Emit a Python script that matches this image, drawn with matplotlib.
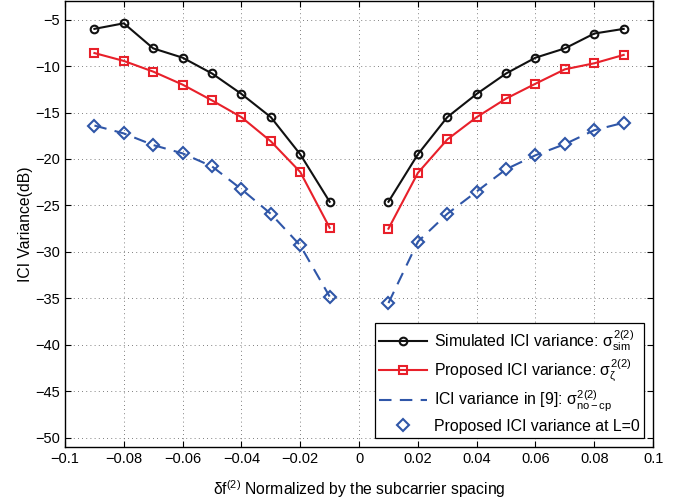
import numpy as np
import matplotlib
matplotlib.use("Agg")
import matplotlib.pyplot as plt

plt.rcParams['font.family'] = ['Liberation Sans', 'DejaVu Sans']
plt.rcParams['mathtext.fontset'] = 'custom'
plt.rcParams['mathtext.rm'] = 'Liberation Sans'
plt.rcParams['mathtext.it'] = 'Liberation Sans'
plt.rcParams['mathtext.bf'] = 'Liberation Sans:bold'

# Normalized frequency offsets (two branches around zero)
df_neg = [-0.09, -0.08, -0.07, -0.06, -0.05, -0.04, -0.03, -0.02, -0.01]
df_pos = [0.01, 0.02, 0.03, 0.04, 0.05, 0.06, 0.07, 0.08, 0.09]

# Simulated ICI variance (dB)
sim_neg = [-6.0, -5.4, -8.1, -9.1, -10.8, -13.0, -15.5, -19.5, -24.6]
sim_pos = [-24.6, -19.5, -15.5, -13.0, -10.8, -9.1, -8.1, -6.5, -6.0]

# Proposed ICI variance (dB)
prop_neg = [-8.6, -9.45, -10.6, -12.0, -13.7, -15.5, -18.1, -21.4, -27.4]
prop_pos = [-27.5, -21.5, -17.9, -15.5, -13.5, -11.9, -10.35, -9.7, -8.8]

# ICI variance in [9] (dB), also the proposed variance at L=0
ref_neg = [-16.4, -17.25, -18.5, -19.4, -20.8, -23.25, -25.9, -29.3, -34.8]
ref_pos = [-35.5, -28.9, -25.9, -23.5, -21.1, -19.6, -18.4, -16.9, -16.1]

black = '#111111'
red = '#e8202a'
blue = '#2f56a8'

fig = plt.figure(figsize=(6.83, 4.99), dpi=100)
ax = fig.add_axes([0.0952, 0.104, 0.861, 0.894])

for i, (x, s, p, r) in enumerate([(df_neg, sim_neg, prop_neg, ref_neg),
                                   (df_pos, sim_pos, prop_pos, ref_pos)]):
    ax.plot(x, s, '-o', color=black, lw=1.5, ms=5.5, mfc='none', mew=1.5,
            label=r'Simulated ICI variance: $\sigma^{2(2)}_{\rm sim}$' if i == 0 else None)
    ax.plot(x, p, '-s', color=red, lw=1.5, ms=5.5, mfc='none', mew=1.5,
            label=r'Proposed ICI variance: $\sigma^{2(2)}_{\zeta}$' if i == 0 else None)
    ax.plot(x, r, '--', color=blue, lw=1.5, dashes=(6, 4),
            label=r'ICI variance in [9]: $\sigma^{2(2)}_{\rm no-cp}$' if i == 0 else None)
    ax.plot(x, r, 'D', color=blue, ms=6.3, mfc='none', mew=1.5, ls='none',
            label='Proposed ICI variance at L=0' if i == 0 else None)

ax.set_xlim(-0.1, 0.1)
ax.set_ylim(-51, -3)
ax.set_xticks(np.arange(-0.1, 0.1001, 0.02))
ax.set_xticklabels(['\u22120.1', '\u22120.08', '\u22120.06', '\u22120.04', '\u22120.02', '0',
                    '0.02', '0.04', '0.06', '0.08', '0.1'])
ax.set_yticks(np.arange(-50, -4, 5))
ax.set_yticklabels(['\u2212%d' % v for v in range(50, 4, -5)])
ax.tick_params(direction='in', top=True, right=True, labelsize=10.5, length=4, width=0.8)
ax.grid(True, color='#555555', linestyle=(0, (1, 4)), linewidth=0.6)
for sp in ax.spines.values():
    sp.set_linewidth(1.0)

ax.set_xlabel(r'$\delta$f$^{(2)}$ Normalized by the subcarrier spacing', fontsize=11.3, labelpad=9)
ax.set_ylabel('ICI Variance(dB)', fontsize=11.3, labelpad=2)

leg = ax.legend(loc='lower right', fontsize=11.4, numpoints=1, handlelength=3.0,
                fancybox=False, framealpha=1, edgecolor='black',
                borderaxespad=0.55, borderpad=0.3, labelspacing=0.3, handletextpad=0.45)
leg.get_frame().set_linewidth(0.9)

fig.savefig('out.png', dpi=100)
